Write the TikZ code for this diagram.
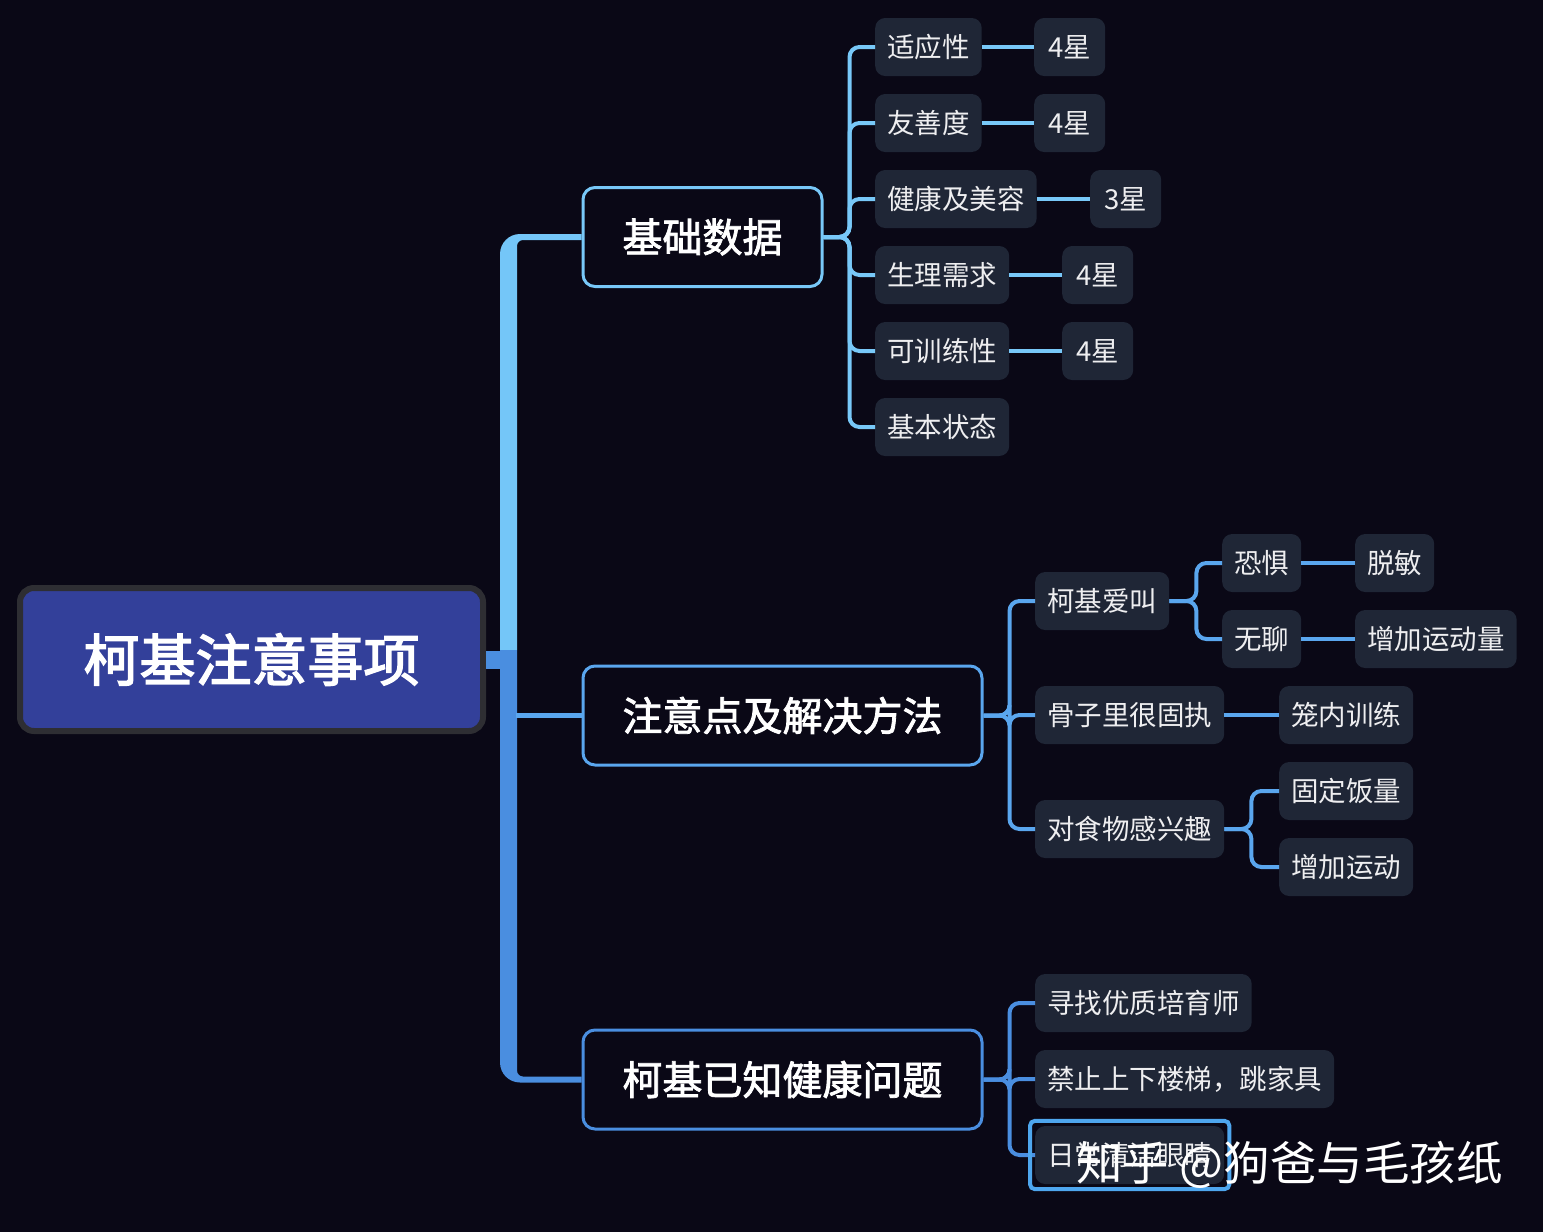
\documentclass[tikz,border=0pt]{standalone}
\usepackage{fontspec}
\setmainfont{Noto Sans CJK SC}
\newfontfamily\rootfont{Noto Sans CJK SC}[FakeBold=2.6]
\newfontfamily\branchfont{Noto Sans CJK SC}[FakeBold=2]
\usetikzlibrary{fit,calc}
\definecolor{bg}{HTML}{0A0816}
\definecolor{leaffill}{HTML}{1F2636}
\definecolor{rootfill}{HTML}{33409A}
\definecolor{rootborder}{HTML}{2E2E33}
\definecolor{ca}{HTML}{78C8F8}
\definecolor{cb}{HTML}{5AA6EE}
\definecolor{cc}{HTML}{4A8EE0}
\definecolor{trunkA}{HTML}{74C6F8}
\definecolor{trunkB}{HTML}{4A8EE0}
\definecolor{sel}{HTML}{4EA6EE}
\definecolor{leaftext}{HTML}{EEEEF0}
\tikzset{
  leaf/.style={fill=leaffill, rounded corners=10pt, text=leaftext,
    font=\fontsize{27.5}{30}\selectfont, minimum height=58pt, inner xsep=12pt,
    inner ysep=0pt, anchor=west},
  star/.style={leaf, minimum width=71pt},
  branchbox/.style={draw=#1, line width=3pt, fill=bg, rounded corners=12pt,
    text=white, font=\fontsize{40}{44}\branchfont,
    minimum height=99pt, inner sep=0pt},
  rootbox/.style={draw=rootborder, line width=6pt, fill=rootfill, rounded corners=14pt,
    text=white, font=\fontsize{56}{60}\rootfont,
    minimum width=463pt, minimum height=143pt, inner sep=0pt},
  conA/.style={draw=ca, line width=4pt, rounded corners=10pt},
  conB/.style={draw=cb, line width=4pt, rounded corners=10pt},
  conC/.style={draw=cc, line width=4pt, rounded corners=10pt},
}
\begin{document}
\begin{tikzpicture}[x=1pt,y=-1pt]
\fill[bg] (0,0) rectangle (1543,1232);
\useasboundingbox (0,0) rectangle (1543,1232);

% root and branches
\node[rootbox] (root) at (251.5,659.5) {柯基注意事项};
\node[branchbox=ca, minimum width=239pt] (b1) at (702.5,237) {基础数据};
\node[branchbox=cb, minimum width=399pt] (b2) at (782.5,715.5) {注意点及解决方法};
\node[branchbox=cc, minimum width=399pt] (b3) at (782.5,1079.5) {柯基已知健康问题};

% trunk
\coordinate (tkL) at (500,650);
\coordinate (tkR) at (517,650);
\fill[trunkA] (tkR) -- (tkL) [rounded corners=20pt] -- ($(tkL |- b1.west)+(0,-3)$) [sharp corners]
  -- ($(b1.west)+(0,-3)$) -- ($(b1.west)+(0,3)$) [rounded corners=6pt]
  -- ($(tkR |- b1.west)+(0,3)$) [sharp corners] -- cycle;
\fill[trunkB] (tkL) [rounded corners=20pt] -- ($(tkL |- b3.west)+(0,3)$) [sharp corners]
  -- ($(b3.west)+(0,3)$) -- ($(b3.west)+(0,-3)$) [rounded corners=6pt]
  -- ($(tkR |- b3.west)+(0,-3)$) [sharp corners] -- (tkR) -- cycle;
\fill[trunkB] ($(root.east)+(0,-9)$) rectangle ($(tkR |- root.east)+(0,9)$);
\draw[cb, line width=5pt] ($(tkR |- b2.west)+(-1,0)$) -- (b2.west);

% branch 1 leaves
\node[leaf] (l11) at (875,47) {适应性};
\node[star] (s11) at (1034,47) {4星};
\node[leaf] (l12) at (875,123) {友善度};
\node[star] (s12) at (1034,123) {4星};
\node[leaf] (l13) at (875,199) {健康及美容};
\node[star] (s13) at (1090,199) {3星};
\node[leaf] (l14) at (875,275) {生理需求};
\node[star] (s14) at (1062,275) {4星};
\node[leaf] (l15) at (875,351) {可训练性};
\node[star] (s15) at (1062,351) {4星};
\node[leaf] (l16) at (875,427) {基本状态};
\foreach \n in {l11,l12,l13,l14,l15,l16}{
  \draw[conA] (b1.east) -- ++(26,0) |- (\n.west);
}
\foreach \a/\b in {l11/s11,l12/s12,l13/s13,l14/s14,l15/s15}{
  \draw[conA] (\a.east) -- (\b.west);
}

% branch 2 leaves
\node[leaf] (l21) at (1035,601) {柯基爱叫};
\node[leaf] (m211) at (1222,563) {恐惧};
\node[leaf] (n211) at (1355,563) {脱敏};
\node[leaf] (m212) at (1222,639) {无聊};
\node[leaf] (n212) at (1355,639) {增加运动量};
\node[leaf] (l22) at (1035,715) {骨子里很固执};
\node[leaf] (m22) at (1279,715) {笼内训练};
\node[leaf] (l23) at (1035,829) {对食物感兴趣};
\node[leaf] (m231) at (1279,791) {固定饭量};
\node[leaf] (m232) at (1279,867) {增加运动};
\foreach \n in {l21,l22,l23}{
  \draw[conB] (b2.east) -- ++(26,0) |- (\n.west);
}
\foreach \n in {m211,m212}{
  \draw[conB] (l21.east) -- ++(27,0) |- (\n.west);
}
\foreach \n in {m231,m232}{
  \draw[conB] (l23.east) -- ++(27,0) |- (\n.west);
}
\draw[conB] (m211.east) -- (n211.west);
\draw[conB] (m212.east) -- (n212.west);
\draw[conB] (l22.east) -- (m22.west);

% branch 3 leaves
\node[leaf] (l31) at (1035,1003) {寻找优质培育师};
\node[leaf] (l32) at (1035,1079) {禁止上下楼梯，跳家具};
\node[leaf] (l33) at (1035,1155) {日常清洁眼睛};
\foreach \n in {l31,l32,l33}{
  \draw[conC] (b3.east) -- ++(26,0) |- (\n.west);
}
\node[draw=sel, line width=4pt, rounded corners=5pt, fit=(l33), inner sep=5pt] (selbox) {};

% watermark
\node[anchor=west, text=white, font=\fontsize{46.5}{50}\selectfont, inner sep=0pt] (wm) at (1076,1165) {知乎 @狗爸与毛孩纸};
\end{tikzpicture}
\end{document}
